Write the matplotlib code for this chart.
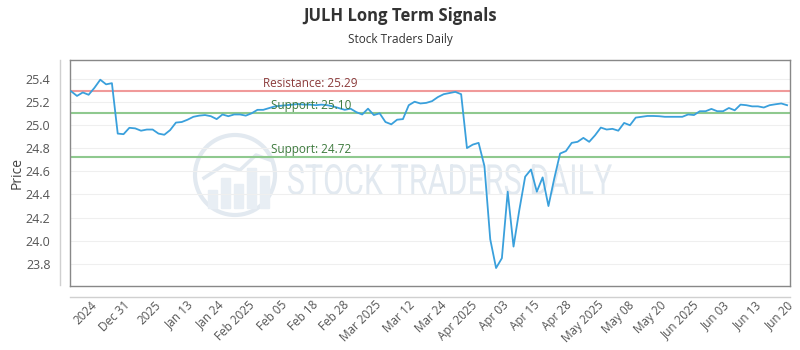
import numpy as np
import matplotlib
matplotlib.use("Agg")
import matplotlib.pyplot as plt
from matplotlib.lines import Line2D
from matplotlib.patches import Ellipse, Rectangle, PathPatch
from matplotlib.textpath import TextPath
from matplotlib.font_manager import FontProperties
from matplotlib.transforms import Affine2D

# ── Data ────────────────────────────────────────────────────
prices = [
    25.29, 25.25, 25.28, 25.26, 25.32, 25.39, 25.35, 25.36, 24.925, 24.92,
    24.975, 24.97, 24.95, 24.96, 24.96, 24.925, 24.915, 24.955, 25.02, 25.025,
    25.045, 25.07, 25.08, 25.085, 25.075, 25.05, 25.09, 25.075, 25.09, 25.09,
    25.08, 25.10, 25.13, 25.13, 25.145, 25.16, 25.165, 25.17, 25.175, 25.18,
    25.175, 25.175, 25.17, 25.175, 25.17, 25.16, 25.145, 25.13, 25.14, 25.11,
    25.09, 25.14, 25.085, 25.10, 25.025, 25.005, 25.045, 25.05, 25.17, 25.20,
    25.185, 25.19, 25.205, 25.24, 25.265, 25.275, 25.285, 25.265, 24.80, 24.83,
    24.845, 24.645, 24.013, 23.765, 23.85, 24.424, 23.95, 24.267, 24.553, 24.615,
    24.424, 24.547, 24.30, 24.538, 24.753, 24.774, 24.845, 24.854, 24.888, 24.854,
    24.91, 24.977, 24.96, 24.966, 24.95, 25.017, 24.997, 25.063, 25.07, 25.077,
    25.077, 25.075, 25.07, 25.07, 25.07, 25.07, 25.09, 25.085, 25.118, 25.118,
    25.138, 25.118, 25.118, 25.146, 25.126, 25.175, 25.17, 25.16, 25.16, 25.15,
    25.17, 25.178, 25.185, 25.17,
]

tick_labels = [
    "2024", "Dec 31", "2025", "Jan 13", "Jan 24", "Feb 2025", "Feb 05", "Feb 18",
    "Feb 28", "Mar 2025", "Mar 12", "Mar 24", "Apr 2025", "Apr 03", "Apr 15",
    "Apr 28", "May 2025", "May 08", "May 20", "Jun 2025", "Jun 03", "Jun 13", "Jun 20",
]
tick_pos = [
    3.4, 8.9, 14.3, 19.8, 25.1, 30.4, 35.9, 41.4, 46.7, 52.2, 57.9, 63.4,
    68.7, 74.1, 79.4, 84.9, 90.4, 95.7, 101.2, 106.7, 112.0, 117.5, 123.0,
]

resistance = 25.29
supports = [25.10, 24.72]

plt.rcParams["font.family"] = ["Open Sans", "DejaVu Sans"]

W, H = 800, 350
fig = plt.figure(figsize=(8, 3.5), dpi=100)
ax = fig.add_axes([70 / W, 1 - 286 / H, 720 / W, 226 / H])

x = np.arange(len(prices))

# ── Watermark (pixel-placed, figure coords) ──────────────────
wm = "#e2e9f0"
ax.add_patch(Ellipse((235 / W, 1 - 175 / H), 80 / W, 80 / H, transform=fig.transFigure,
                     fill=False, ec=wm, lw=3, zorder=0))
for bx, top in [(208, 190), (221, 178), (234, 184), (247, 168), (260, 176)]:
    ax.add_patch(Rectangle((bx / W, 1 - 208 / H), 9 / W, (208 - top) / H,
                           transform=fig.transFigure, color="#e8eef4", zorder=0))
ax.add_line(Line2D([204 / W, 224 / W, 240 / W, 256 / W, 270 / W],
                   [1 - 178 / H, 1 - 165 / H, 1 - 170 / H, 1 - 155 / H, 1 - 160 / H],
                   transform=fig.transFigure, color=wm, lw=2.5, zorder=0))
tp = TextPath((0, 0), "STOCK TRADERS DAILY", size=1, prop=FontProperties(family="Roboto"))
ext = tp.get_extents()
sx, sy = 324 / ext.width, 31 / ext.height
tr = (Affine2D().translate(-ext.x0, -ext.y0).scale(sx / W, sy / H)
      .translate(288 / W, 1 - 195 / H) + fig.transFigure)
ax.add_patch(PathPatch(tp, transform=tr, color=wm, lw=0, zorder=0))

ax.plot(x, prices, color="#3aa0dc", lw=1.3, zorder=3)

ax.axhline(resistance, color="#f09a9a", lw=1.5, zorder=2)
ax.text(33, resistance + 0.015, f"Resistance: {resistance:.2f}", color="#8b3a3a",
        fontsize=8.5, va="bottom", ha="left")
for s in supports:
    ax.axhline(s, color="#8fc98f", lw=1.5, zorder=2)
    ax.text(34.4, s + 0.015, f"Support: {s:.2f}", color="#3d7a3d",
            fontsize=8.5, va="bottom", ha="left")

ax.set_xlim(-0.2, len(prices) - 0.5)
ax.set_ylim(23.61, 25.56)
yt = np.arange(23.8, 25.41, 0.2)
ax.set_yticks(yt)
ax.set_yticklabels([f"{v:.1f}" for v in yt])
ax.grid(axis="y", color="#efefef", lw=0.8)
ax.set_axisbelow(True)

ax.set_xticks(tick_pos)
ax.set_xticklabels(tick_labels, rotation=45, ha="right", rotation_mode="anchor")
ax.tick_params(axis="x", length=0, pad=9, labelsize=8.5, labelcolor="#555555")
ax.tick_params(axis="y", length=0, pad=14, labelsize=9, labelcolor="#555555")

for side in ["left", "bottom", "top", "right"]:
    ax.spines[side].set_color("#888888")
    ax.spines[side].set_linewidth(1)

ax.set_ylabel("Price", fontsize=10, color="#444444", labelpad=1)

# outer frame lines
fig.add_artist(Line2D([60 / W, 60 / W], [1 - 285 / H, 1 - 60 / H],
                      transform=fig.transFigure, color="#d0d0d0", lw=1))
fig.add_artist(Line2D([70 / W, 790 / W], [1 - 297 / H, 1 - 297 / H],
                      transform=fig.transFigure, color="#d0d0d0", lw=1))

fig.text(0.5, 1 - 16 / H, "JULH Long Term Signals", ha="center", va="center",
         fontsize=12, fontweight="bold", color="#333333")
fig.text(0.5, 1 - 40 / H, "Stock Traders Daily", ha="center", va="center",
         fontsize=8.5, color="#333333")

fig.savefig("out.png", dpi=100)
